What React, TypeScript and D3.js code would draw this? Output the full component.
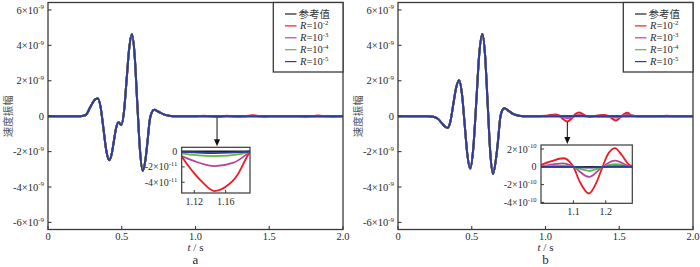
import React from 'react';
import * as d3 from 'd3';

type Pt = [number, number];

const W = 700;
const H = 267;

// ---- axes ----
const T_DOMAIN: Pt = [0, 2];
const X_TICKS = [0, 0.5, 1.0, 1.5, 2.0];
const X_TICK_LABELS = ['0', '0.5', '1.0', '1.5', '2.0'];
const Y_DOMAIN: Pt = [-6.4e-9, 6.42e-9];
const Y_TICKS = [-6e-9, -4e-9, -2e-9, 0, 2e-9, 4e-9, 6e-9];
const Y_TICK_MANT = ['-6', '-4', '-2', '0', '2', '4', '6'];
const Y_TICK_EXP = '-9';

// ---- series ----
const SERIES_NAMES = ['参考值', 'R=10-2', 'R=10-3', 'R=10-4', 'R=10-5'];
const LEGEND_EXPS = ['', '-2', '-3', '-4', '-5'];
const SERIES_COLORS = ['#231f20', '#ec1c24', '#b0479c', '#5cb946', '#2f3c9e'];

// waveform (t in s, amplitude in 1e-9) common to all series, panel a
const WAVE_SCALE = 1e-9;
const WAVE_A: Pt[] = [
  [0, 0], [0.2, 0], [0.24, 0.03], [0.26, 0.1], [0.28, 0.4], [0.3, 0.72], [0.32, 0.95], [0.338, 1.0],
  [0.357, 0.5], [0.3765, -0.745], [0.396, -1.98], [0.415, -2.49], [0.431, -2.17], [0.4465, -1.415],
  [0.462, -0.66], [0.478, -0.34], [0.497, -0.5], [0.515, 0.25], [0.533, 2.06], [0.551, 3.87],
  [0.569, 4.62], [0.587, 3.49], [0.605, 0.77], [0.624, -1.96], [0.642, -3.09], [0.66, -2.5],
  [0.675, -1.4], [0.69, -0.2], [0.703, 0.2], [0.72, 0.36], [0.75, 0.25], [0.78, 0.12], [0.82, 0.03],
  [0.87, 0], [0.95, 0],
];
// panel b
const WAVE_B: Pt[] = [
  [0, 0], [0.2, 0], [0.24, -0.03], [0.27, -0.15], [0.3, -0.42], [0.32, -0.6], [0.337, -0.66],
  [0.356, -0.27], [0.375, 0.68], [0.395, 1.63], [0.414, 2.03], [0.433, 1.3], [0.452, -0.46],
  [0.471, -2.23], [0.49, -2.96], [0.51, -1.85], [0.531, 0.84], [0.551, 3.53], [0.572, 4.64],
  [0.59, 3.48], [0.608, 0.69], [0.626, -2.1], [0.644, -3.26], [0.663, -2.5], [0.678, -1.4],
  [0.693, -0.1], [0.705, 0.3], [0.72, 0.45], [0.75, 0.3], [0.78, 0.13], [0.82, 0.03], [0.87, 0],
  [0.95, 0],
];

// late-time ripples (t in s, absolute amplitude), panel a
const REF_A: Pt[] = [[1.0, 0], [2.0, 0]];
const R2_A: Pt[] = [
  [1.0, 0], [1.03, 1.0e-11], [1.053, 2.0e-11], [1.08, 0.8e-11], [1.095, -0.2e-11], [1.104, -0.7e-11],
  [1.112, -1.8e-11], [1.12, -2.85e-11], [1.13, -3.95e-11], [1.146, -5.15e-11], [1.16, -4.6e-11],
  [1.175, -3.07e-11], [1.185, -1.1e-11], [1.191, 0], [1.21, 3e-11], [1.24, 0.5e-11], [1.27, -2e-11],
  [1.3, -3e-11], [1.34, 0], [1.39, 5e-11], [1.43, 0], [1.46, -3e-11], [1.5, 0], [1.7, 0],
  [1.75, -3e-11], [1.79, 0], [1.83, 4e-11], [1.88, 0], [1.93, -3e-11], [1.97, 0], [2.0, 0],
];
const R3_A: Pt[] = [
  [1.0, 0], [1.053, 0.8e-11], [1.09, 0], [1.104, -0.6e-11], [1.12, -1.25e-11], [1.146, -1.9e-11],
  [1.17, -1.45e-11], [1.185, -0.5e-11], [1.191, 0], [1.21, 1.1e-11], [1.24, 0], [1.3, -1.1e-11],
  [1.34, 0], [1.39, 1.8e-11], [1.43, 0], [1.46, -1.1e-11], [1.5, 0], [2.0, 0],
];
const R4_A: Pt[] = [
  [1.0, 0], [1.09, 0], [1.104, -0.25e-11], [1.146, -0.6e-11], [1.18, -0.3e-11], [1.191, 0],
  [1.21, 0.3e-11], [1.24, 0], [2.0, 0],
];
const R5_A: Pt[] = [[1.0, 0], [1.104, -0.05e-11], [1.146, -0.2e-11], [1.185, -0.05e-11], [1.191, 0], [2.0, 0]];

// panel b
const REF_B: Pt[] = [[1.0, 0], [2.0, 0]];
const R2_B: Pt[] = [
  [1.0, 0.2e-10], [1.03, 0.6e-10], [1.07, 0.96e-10], [1.09, 0.5e-10], [1.1, 0], [1.12, -1.7e-10],
  [1.148, -3.0e-10], [1.172, -1.7e-10], [1.19, 0], [1.205, 1.3e-10], [1.228, 2.1e-10], [1.25, 1.3e-10],
  [1.27, 0.3e-10], [1.282, 0.05e-10], [1.3, -0.4e-10], [1.33, 0], [1.39, 0.6e-10], [1.43, 0],
  [1.455, -1.5e-10], [1.478, -2.4e-10], [1.5, -1.2e-10], [1.515, 0], [1.535, 1.3e-10],
  [1.555, 1.9e-10], [1.58, 0.6e-10], [1.62, 0], [1.78, 0], [1.82, 0.3e-10], [1.86, 0], [2.0, 0],
];
const R3_B: Pt[] = [
  [1.0, 0.05e-10], [1.07, 0.38e-10], [1.1, 0], [1.148, -1.14e-10], [1.19, 0], [1.228, 0.69e-10],
  [1.282, 0], [1.39, 0.2e-10], [1.43, 0], [1.478, -0.8e-10], [1.515, 0], [1.555, 0.65e-10],
  [1.62, 0], [2.0, 0],
];
const R4_B: Pt[] = [
  [1.0, 0], [1.07, 0.12e-10], [1.1, 0], [1.148, -0.45e-10], [1.19, 0], [1.228, 0.3e-10], [1.282, 0],
  [1.478, -0.3e-10], [1.515, 0], [1.555, 0.25e-10], [1.62, 0], [2.0, 0],
];
const R5_B: Pt[] = [[1.0, 0], [1.1, 0], [1.148, -0.1e-10], [1.19, 0], [1.228, 0.08e-10], [1.282, 0], [2.0, 0]];

// ---- insets ----
const INSET_A_X: Pt = [1.104, 1.191];
const INSET_A_Y: Pt = [-5.4e-11, 0.55e-11];
const INSET_A_XTICKS = [1.12, 1.16];
const INSET_A_XLABELS = ['1.12', '1.16'];
const INSET_A_YTICKS = [0, -2e-11, -4e-11];
const INSET_A_YMANT = ['0', '-2', '-4'];
const INSET_A_YEXP = '-11';

const INSET_B_X: Pt = [1.0, 1.282];
const INSET_B_Y: Pt = [-4.1e-10, 2.45e-10];
const INSET_B_XTICKS = [1.1, 1.2];
const INSET_B_XLABELS = ['1.1', '1.2'];
const INSET_B_YTICKS = [2e-10, 0, -2e-10, -4e-10];
const INSET_B_YMANT = ['2', '0', '-2', '-4'];
const INSET_B_YEXP = '-10';

const SERIF = '"Liberation Serif", "Times New Roman", serif';
const CJK = '"Noto Sans CJK SC", sans-serif';
const TXT = '#2a2a2a';
const AXC = '#3a3a3a';

function Sci({ x, y, mant, exp, anchor = 'end', fs = 10.5 }: any) {
  if (mant === '0') {
    return (
      <text x={x} y={y} textAnchor={anchor} fontSize={fs} fontFamily={SERIF} fill={TXT}>0</text>
    );
  }
  return (
    <text x={x} y={y} textAnchor={anchor} fontSize={fs} fontFamily={SERIF} fill={TXT}>
      {mant}×10<tspan dy={-fs * 0.42} fontSize={fs * 0.66}>{exp}</tspan>
    </text>
  );
}

interface InsetCfg {
  x0: number; x1: number; y0: number; y1: number;
  xd: Pt; yd: Pt;
  xticks: number[]; xlabels: string[];
  yticks: number[]; ymant: string[]; yexp: string;
}

interface PanelProps {
  ox: number;
  id: string;
  wave: Pt[];
  ripples: Pt[][];
  inset: InsetCfg;
  label: string;
  arrowT: number;
  arrowY0: number;
}

function Panel({ ox, id, wave, ripples, inset, label, arrowT, arrowY0 }: PanelProps) {
  const L = 48, R = 343, T = 2.5, B = 229.5;
  const x = d3.scaleLinear().domain(T_DOMAIN).range([L, R]);
  const y = d3.scaleLinear().domain(Y_DOMAIN).range([B, T]);
  const line = d3.line<Pt>().x(d => x(d[0])).y(d => y(d[1])).curve(d3.curveMonotoneX);
  const waveAbs: Pt[] = wave.map(([t, v]) => [t, v * WAVE_SCALE]);

  const ix = d3.scaleLinear().domain(inset.xd).range([inset.x0, inset.x1]);
  const iy = d3.scaleLinear().domain(inset.yd).range([inset.y1, inset.y0]);
  const iline = d3.line<Pt>().x(d => ix(d[0])).y(d => iy(d[1])).curve(d3.curveMonotoneX);

  const ax = x(arrowT);
  const tip = inset.y0 - 1;

  const legX0 = 273.3;
  const legY0 = T;
  const legY1 = 72;

  return (
    <g transform={`translate(${ox},0)`}>
      <defs>
        <clipPath id={`main-${id}`}>
          <rect x={L} y={T} width={R - L} height={B - T} />
        </clipPath>
        <clipPath id={`ins-${id}`}>
          <rect x={inset.x0} y={inset.y0} width={inset.x1 - inset.x0} height={inset.y1 - inset.y0} />
        </clipPath>
      </defs>

      {/* main lines */}
      <g clipPath={`url(#main-${id})`}>
        {ripples.map((rp, i) => (
          <path key={i} d={line(waveAbs.concat(rp)) || ''} fill="none"
            stroke={SERIES_COLORS[i]} strokeWidth={2} strokeLinejoin="round" />
        ))}
      </g>

      {/* frame */}
      <rect x={L} y={T} width={R - L} height={B - T} fill="none" stroke={AXC} strokeWidth={1.3} />

      {/* y ticks */}
      {Y_TICKS.map((v, i) => (
        <g key={i}>
          <line x1={L} x2={L + 3.5} y1={y(v)} y2={y(v)} stroke={AXC} strokeWidth={1.1} />
          <Sci x={L - 4} y={y(v) + 3.6} mant={Y_TICK_MANT[i]} exp={Y_TICK_EXP} />
        </g>
      ))}
      {/* x ticks */}
      {X_TICKS.map((v, i) => (
        <g key={i}>
          <line x1={x(v)} x2={x(v)} y1={B} y2={B - 3.5} stroke={AXC} strokeWidth={1.1} />
          <text x={x(v)} y={239.5} textAnchor="middle" fontSize={10.5} fontFamily={SERIF} fill={TXT}>
            {X_TICK_LABELS[i]}
          </text>
        </g>
      ))}

      {/* axis titles */}
      <text x={(L + R) / 2} y={251} textAnchor="middle" fontSize={11} fontFamily={SERIF} fill={TXT}>
        <tspan fontStyle="italic">t</tspan> / s
      </text>
      <text x={(L + R) / 2} y={263.5} textAnchor="middle" fontSize={13} fontFamily={SERIF} fill={TXT}>
        {label}
      </text>
      <text transform={`translate(7,${y(0)}) rotate(-90)`} textAnchor="middle" dominantBaseline="central"
        fontSize={10.5} fontFamily={CJK} fill="#555">速度振幅</text>

      {/* legend */}
      <rect x={legX0} y={legY0} width={R - legX0} height={legY1 - legY0} fill="#fff" stroke={AXC} strokeWidth={1.3} />
      {SERIES_NAMES.map((name, i) => {
        const ry = 14 + i * 11.9;
        return (
          <g key={i}>
            <line x1={285} x2={296.5} y1={ry} y2={ry} stroke={SERIES_COLORS[i]} strokeWidth={1.2} />
            {i === 0 ? (
              <text x={298.5} y={ry + 3.6} fontSize={10.5} fontFamily={CJK} fill="#333">{name}</text>
            ) : (
              <text x={300} y={ry + 3.4} fontSize={10.5} fontFamily={SERIF} fill={TXT}>
                <tspan fontStyle="italic">R</tspan>=10<tspan dy={-4} fontSize={6.8}>{LEGEND_EXPS[i]}</tspan>
              </text>
            )}
          </g>
        );
      })}

      {/* arrow */}
      <line x1={ax} x2={ax} y1={arrowY0} y2={tip - 5} stroke="#111" strokeWidth={1} />
      <path d={`M${ax - 3},${tip - 7} L${ax + 3},${tip - 7} L${ax},${tip} Z`} fill="#111" />

      {/* inset */}
      <rect x={inset.x0} y={inset.y0} width={inset.x1 - inset.x0} height={inset.y1 - inset.y0} fill="#fff" />
      <g clipPath={`url(#ins-${id})`}>
        {ripples.map((rp, i) => (
          <path key={i} d={iline(rp) || ''} fill="none" stroke={SERIES_COLORS[i]} strokeWidth={1.8}
            strokeLinejoin="round" />
        ))}
      </g>
      <rect x={inset.x0} y={inset.y0} width={inset.x1 - inset.x0} height={inset.y1 - inset.y0}
        fill="none" stroke={AXC} strokeWidth={1.2} />
      {inset.yticks.map((v, i) => (
        <g key={i}>
          <line x1={inset.x0} x2={inset.x0 + 3} y1={iy(v)} y2={iy(v)} stroke={AXC} strokeWidth={1} />
          <Sci x={inset.x0 - 4.5} y={iy(v) + 3.6} mant={inset.ymant[i]} exp={inset.yexp} fs={10} />
        </g>
      ))}
      {inset.xticks.map((v, i) => (
        <g key={i}>
          <line x1={ix(v)} x2={ix(v)} y1={inset.y1} y2={inset.y1 - 3} stroke={AXC} strokeWidth={1} />
          <text x={ix(v)} y={inset.y1 + 12} textAnchor="middle" fontSize={10} fontFamily={SERIF} fill={TXT}>
            {inset.xlabels[i]}
          </text>
        </g>
      ))}
    </g>
  );
}

export default function App() {
  const insetA: InsetCfg = {
    x0: 181.7, x1: 250, y0: 147.3, y1: 193,
    xd: INSET_A_X, yd: INSET_A_Y,
    xticks: INSET_A_XTICKS, xlabels: INSET_A_XLABELS,
    yticks: INSET_A_YTICKS, ymant: INSET_A_YMANT, yexp: INSET_A_YEXP,
  };
  const insetB: InsetCfg = {
    x0: 191, x1: 282.3, y0: 145, y1: 203.3,
    xd: INSET_B_X, yd: INSET_B_Y,
    xticks: INSET_B_XTICKS, xlabels: INSET_B_XLABELS,
    yticks: INSET_B_YTICKS, ymant: INSET_B_YMANT, yexp: INSET_B_YEXP,
  };
  return (
    <svg width={W} height={H} viewBox={`0 0 ${W} ${H}`}
      style={{ position: 'absolute', left: 0, top: 0, background: '#fff' }}>
      <rect x={0} y={0} width={W} height={H} fill="#fff" />
      <Panel ox={0} id="a" wave={WAVE_A} ripples={[REF_A, R2_A, R3_A, R4_A, R5_A]} inset={insetA}
        label="a" arrowT={1.146} arrowY0={117.5} />
      <Panel ox={350} id="b" wave={WAVE_B} ripples={[REF_B, R2_B, R3_B, R4_B, R5_B]} inset={insetB}
        label="b" arrowT={1.148} arrowY0={122} />
    </svg>
  );
}
